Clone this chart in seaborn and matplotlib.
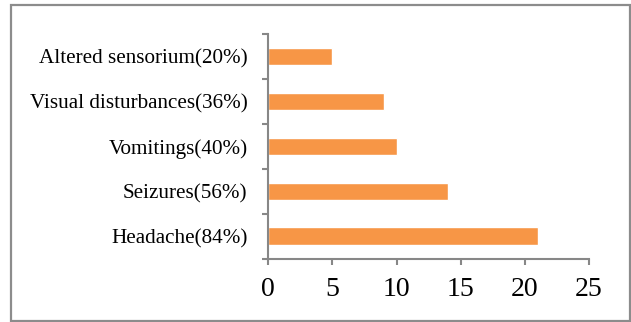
import seaborn as sns
import matplotlib.pyplot as plt
import pandas as pd
from matplotlib.patches import Rectangle

symptoms = ["Altered sensorium(20%)", "Visual disturbances(36%)", "Vomitings(40%)",
            "Seizures(56%)", "Headache(84%)"]
counts = [5, 9, 10, 14, 21]
xticks = [0, 5, 10, 15, 20, 25]

df = pd.DataFrame({"Symptom": symptoms, "Count": counts})

sns.set_style("white")
plt.rcParams["font.family"] = ["Liberation Serif", "DejaVu Serif"]
plt.rcParams["text.color"] = "black"
plt.rcParams["xtick.labelcolor"] = "black"
plt.rcParams["ytick.labelcolor"] = "black"

fig = plt.figure(figsize=(6.31, 3.22), dpi=100)
ax = fig.add_axes([0.4252, 0.1966, 0.5082, 0.6978])

sns.barplot(data=df, x="Count", y="Symptom", order=symptoms, color="#F79646",
            saturation=1, width=0.39, orient="h", ax=ax)

axis_col = "#878787"
ax.set_xlim(0, 25)
ax.set_ylim(len(symptoms) - 0.5, -0.5)
ax.set_xticks(xticks)
ax.set_xticklabels([str(t) for t in xticks], fontsize=20)
ax.set_yticks(range(len(symptoms)))
ax.set_yticklabels(symptoms, fontsize=15.2)
ax.set_yticks([i - 0.5 for i in range(len(symptoms) + 1)], minor=True)
ax.tick_params(axis="y", which="major", length=0, pad=15)
ax.tick_params(axis="y", which="minor", length=4, width=1.5, color=axis_col, left=True)
ax.tick_params(axis="x", length=4, width=1.5, color=axis_col, bottom=True, pad=9)
ax.set_xlabel("")
ax.set_ylabel("")

for s in ["top", "right"]:
    ax.spines[s].set_visible(False)
for s in ["left", "bottom"]:
    ax.spines[s].set_color(axis_col)
    ax.spines[s].set_linewidth(1.5)

# outer frame around the chart
fig.patches.append(Rectangle((11 / 631, 1 / 322), 619 / 631, 316 / 322,
                             transform=fig.transFigure, fill=False,
                             edgecolor="#8c8c8c", linewidth=1.6))

fig.savefig("out.png", dpi=100)
